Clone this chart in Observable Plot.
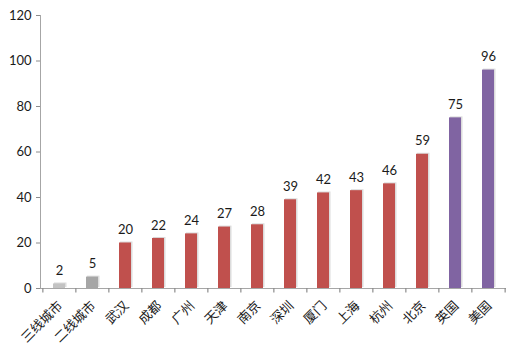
<!DOCTYPE html>
<html>
<head>
<meta charset="utf-8">
<script src="https://cdn.jsdelivr.net/npm/d3@7"></script>
<script src="https://cdn.jsdelivr.net/npm/@observablehq/plot@0.6"></script>
<style>
body { margin: 0; background: #fff; }
</style>
</head>
<body>
<div id="chart"></div>
<script>
const categories = ["三线城市", "二线城市", "武汉", "成都", "广州", "天津", "南京", "深圳", "厦门", "上海", "杭州", "北京", "英国", "美国"];
const values = [2, 5, 20, 22, 24, 27, 28, 39, 42, 43, 46, 59, 75, 96];
const groups = ["三线", "二线", "城市", "城市", "城市", "城市", "城市", "城市", "城市", "城市", "城市", "城市", "国家", "国家"];
const yTicks = [0, 20, 40, 60, 80, 100, 120];

const colorMap = {"三线": "#c3c3c3", "二线": "#a6a6a6", "城市": "#c0504d", "国家": "#8064a2"};
const data = categories.map((c, i) => ({cat: c, value: values[i], group: groups[i]}));

const W = 514, H = 354;
const ml = 40, mr = 8;
const step = (W - ml - mr) / categories.length;
const last = categories[categories.length - 1];

const chart = Plot.plot({
  width: W,
  height: H,
  marginLeft: ml,
  marginRight: mr,
  marginTop: 15,
  marginBottom: 66,
  style: {fontFamily: "Lato, 'Noto Sans CJK SC', sans-serif", fontSize: "13px", background: "#fff", color: "#222"},
  x: {domain: categories, paddingInner: 0.64, paddingOuter: 0.32, label: null, axis: null},
  y: {domain: [0, 120], ticks: yTicks, label: null},
  color: {domain: Object.keys(colorMap), range: Object.values(colorMap)},
  marks: [
    Plot.barY(data, {x: "cat", y: "value", fill: "#dcdcdc", dx: 1.5, dy: -1, insetLeft: -0.5}),
    Plot.barY(data, {x: "cat", y: "value", fill: "group"}),
    Plot.ruleY([0], {stroke: "#a6a6a6"}),
    Plot.frame({anchor: "left", stroke: "#a6a6a6"}),
    Plot.ruleX(categories, {x: d => d, y1: 0, y2: -2, dx: -step / 2, stroke: "#8c8c8c", strokeWidth: 1.2}),
    Plot.ruleX([last], {x: d => d, y1: 0, y2: -2, dx: step / 2, stroke: "#8c8c8c", strokeWidth: 1.2}),
    Plot.text(data, {x: "cat", y: "value", text: d => String(d.value), dy: -13, fill: "#1a1a1a", fontSize: 13}),
    Plot.axisY({ticks: yTicks, tickSize: 4, tickPadding: 5, stroke: "#8c8c8c", fill: "#1a1a1a", fontSize: 13, label: null}),
    Plot.text(categories, {x: d => d, frameAnchor: "bottom", text: d => d, rotate: -45, textAnchor: "end", lineAnchor: "middle", dy: 15, dx: 1, fill: "#1a1a1a", fontSize: 13, fontFamily: "'Noto Sans CJK SC', sans-serif"})
  ]
});
document.getElementById("chart").appendChild(chart);
</script>
</body>
</html>
